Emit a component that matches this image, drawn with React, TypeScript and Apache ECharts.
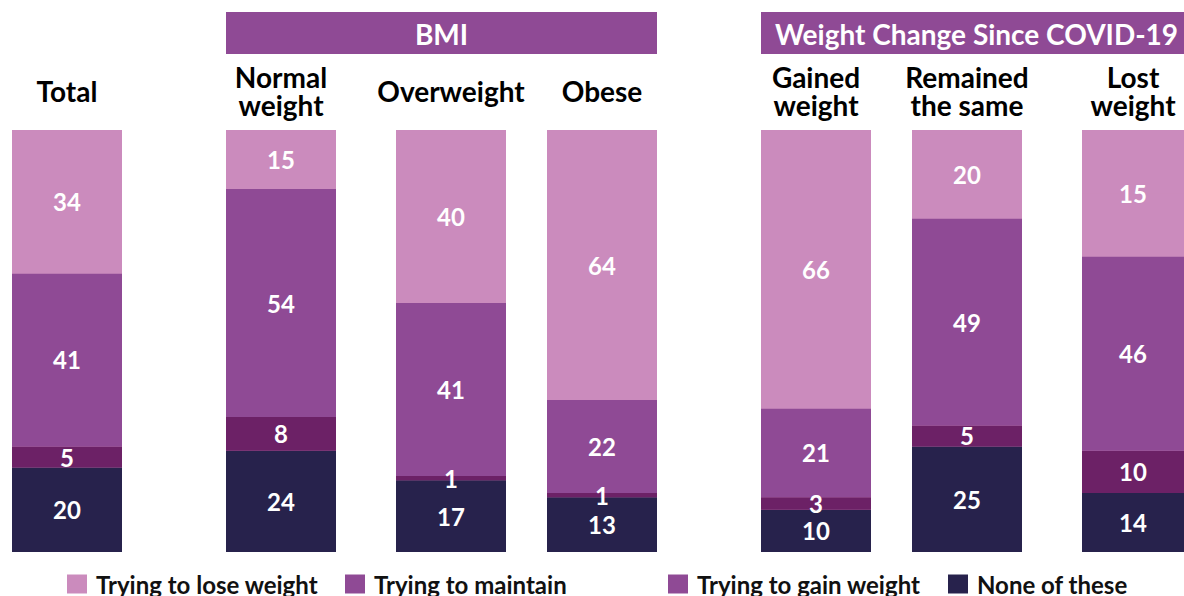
import React, { useEffect, useRef } from "react";
import * as echarts from "echarts";

const categories = ["Total", "Normal\nweight", "Overweight", "Obese", "Gained\nweight", "Remained\nthe same", "Lost\nweight"];
const loseWeight = [34, 15, 40, 64, 66, 20, 15];
const maintain = [41, 54, 41, 22, 21, 49, 46];
const gainWeight = [5, 8, 1, 1, 3, 5, 10];
const noneOfThese = [20, 24, 17, 13, 10, 25, 14];
const seriesNames = ["Trying to lose weight", "Trying to maintain", "Trying to gain weight", "None of these"];
const groupHeaders = ["BMI", "Weight Change Since COVID-19"];
const groupMembers = [[1, 2, 3], [4, 5, 6]];

// layout
const barLefts = [12, 226, 396, 547, 761, 912, 1082];
const BAR_W = 110;
const GRID_TOP = 130;
const GRID_H = 422;
const FONT = "Lato, 'Open Sans', sans-serif";

const C_LOSE = "#CB8BBD";
const C_MAINTAIN = "#8F4A95";
const C_GAIN = "#6C2166";
const C_NONE = "#27224C";

export default function App() {
  const ref = useRef<HTMLDivElement>(null);
  useEffect(() => {
    if (!ref.current) return;
    const chart = echarts.init(ref.current, undefined, { renderer: "svg" });
    const grids = barLefts.map((l) => ({ left: l, top: GRID_TOP, width: BAR_W, height: GRID_H }));
    const xAxes = categories.map((c, i) => ({
      type: "category",
      gridIndex: i,
      position: "top",
      data: [c],
      axisLine: { show: false },
      axisTick: { show: false },
      axisLabel: {
        interval: 0,
        margin: 39,
        verticalAlign: "middle",
        fontFamily: FONT,
        fontWeight: "bold",
        fontSize: 28,
        lineHeight: 28,
        color: "#000",
      },
    }));
    const yAxes = categories.map((_, i) => ({
      type: "value",
      gridIndex: i,
      min: 0,
      max: 100,
      show: false,
      splitLine: { show: false },
    }));
    const unitPx = GRID_H / 100;
    const labelStyle = {
      show: true,
      position: "inside",
      color: "#fff",
      fontFamily: FONT,
      fontWeight: "bold",
      fontSize: 24,
    };
    const series: any[] = [];
    categories.forEach((_, i) => {
      const common = { type: "bar", xAxisIndex: i, yAxisIndex: i, stack: "s" + i, barWidth: "100%" };
      series.push({
        ...common,
        name: seriesNames[3],
        data: [noneOfThese[i]],
        itemStyle: { color: C_NONE },
        showBackground: true,
        backgroundStyle: { color: C_LOSE },
        label: labelStyle,
      });
      series.push({ ...common, name: seriesNames[2], data: [gainWeight[i]], itemStyle: { color: C_GAIN }, label: labelStyle });
      series.push({ ...common, name: seriesNames[1], data: [maintain[i]], itemStyle: { color: C_MAINTAIN }, label: labelStyle });
      const total = noneOfThese[i] + gainWeight[i] + maintain[i] + loseWeight[i];
      const shift = total < 100 ? -((100 - total) / 2) * unitPx : 0;
      series.push({
        ...common,
        name: seriesNames[0],
        data: [{ value: loseWeight[i], label: { offset: [0, shift] } }],
        itemStyle: { color: C_LOSE },
        label: labelStyle,
      });
    });
    const legendLefts = [67, 345, 668, 948];
    const legendColors = [C_LOSE, C_MAINTAIN, C_MAINTAIN, C_NONE];
    const legends = seriesNames.map((n, k) => ({
      left: legendLefts[k],
      top: 572,
      padding: 0,
      icon: "rect",
      itemWidth: 20,
      itemHeight: 19,
      selectedMode: false,
      data: [{ name: n, itemStyle: { color: legendColors[k] } }],
      textStyle: {
        fontFamily: FONT,
        fontWeight: "bold",
        fontSize: 24,
        lineHeight: 24,
        color: "#111",
        padding: [0, 0, 0, 4],
      },
    }));
    const graphic: any[] = [];
    groupHeaders.forEach((h, g) => {
      const m = groupMembers[g];
      const x0 = barLefts[m[0]];
      const x1 = barLefts[m[m.length - 1]] + BAR_W;
      graphic.push({ type: "rect", shape: { x: x0, y: 12, width: x1 - x0, height: 42 }, style: { fill: C_MAINTAIN } });
      graphic.push({
        type: "text",
        x: (x0 + x1) / 2,
        y: 34,
        style: {
          text: h,
          fill: "#fff",
          font: `bold 28px ${FONT}`,
          align: "center",
          verticalAlign: "middle",
        },
      });
    });
    chart.setOption({
      animation: false,
      grid: grids,
      xAxis: xAxes,
      yAxis: yAxes,
      series,
      legend: legends,
      graphic,
    });
    return () => chart.dispose();
  }, []);
  return <div ref={ref} style={{ position: "fixed", left: 0, top: 0, width: 1184, height: 596, background: "#fff" }} />;
}
